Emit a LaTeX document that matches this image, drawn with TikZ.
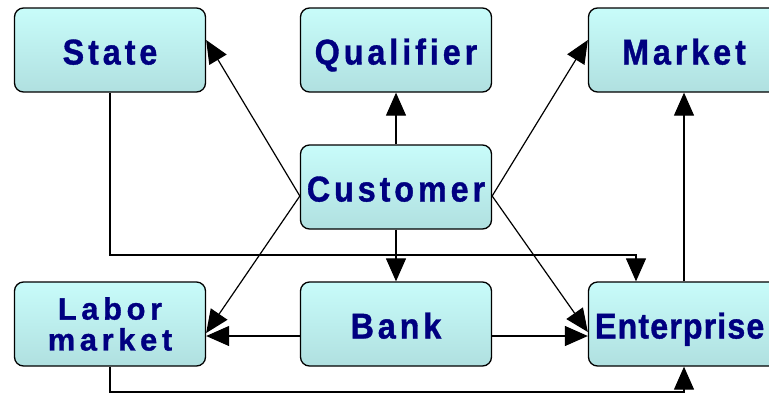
\documentclass[tikz,border=0pt]{standalone}
\usepackage{fontspec}
\usetikzlibrary{arrows.meta}
\newfontfamily\boxfont[FakeStretch=0.9,LetterSpace=11,FakeBold=1]{Liberation Sans}
\newfontfamily\entfont[FakeStretch=0.9,LetterSpace=3,FakeBold=1]{Liberation Sans}
\newfontfamily\twofont[LetterSpace=15,FakeBold=1]{Liberation Sans}
\definecolor{boxtop}{RGB}{200,252,250}
\definecolor{boxbot}{RGB}{176,224,224}
\definecolor{navy}{RGB}{0,0,128}

\tikzset{
  box/.style={draw=black,line width=1.3bp,rounded corners=9bp,
    top color=boxtop,bottom color=boxbot,
    minimum width=191bp,minimum height=84bp,inner sep=0pt,
    text=navy},
  oneline/.style={font=\boxfont\bfseries\fontsize{36}{36}\selectfont,
    text height=29bp,text depth=0pt},
  arr/.style={line width=1.2bp,-{Triangle[length=23bp,width=20bp]}}
}

\begin{document}
\begin{tikzpicture}[x=1bp,y=-1bp]

        \useasboundingbox (0,0) rectangle (769,394);
        \clip (0,0) rectangle (769,394);

        % boxes
        \node[box,oneline] (state)  at (110,50)  {State};
        \node[box,oneline] (qual)   at (396,50)  {Qualifier};
        \node[box,oneline] (market) at (684,50)  {Market};
        \node[box,oneline] (cust)   at (396,187) {Customer};
        \node[box,align=center,font=\twofont\bfseries\fontsize{31}{31}\selectfont]
                           (labor)  at (110,324) {Labor\\market};
        \node[box,oneline] (bank)   at (396,324) {Bank};
        \node[box,oneline,font=\entfont\bfseries\fontsize{36}{36}\selectfont,
              text width=178bp,align=left]
                           (ent)    at (684,324) {Enterprise};

        % bends
        \coordinate (bendA) at (636,255);
        \coordinate (bendB) at (684,392);

        % connectors
        \draw[arr] (cust.north) -- (qual.south);
        \draw[arr] (cust.south) -- (bank.north);
        \draw[arr] ([yshift=-9bp]cust.west) -- ([yshift=10bp]state.east);
        \draw[arr] ([yshift=-9bp]cust.west) -- ([yshift=-9bp]labor.east);
        \draw[arr] ([yshift=-9bp]cust.east) -- ([yshift=10bp]market.west);
        \draw[arr] ([yshift=-9bp]cust.east) -- ([yshift=-8bp]ent.west);
        \draw[arr] ([yshift=-12bp]bank.west) -- ([yshift=-12bp]labor.east);
        \draw[arr] ([yshift=-12bp]bank.east) -- ([yshift=-12bp]ent.west);
        \draw[arr] (state.south) |- (bendA) -- (bendA |- ent.north);
        \draw[arr] (labor.south) |- (bendB) -- (ent.south);
        \draw[arr] (ent.north) -- (market.south);

      \end{tikzpicture}
\end{document}
